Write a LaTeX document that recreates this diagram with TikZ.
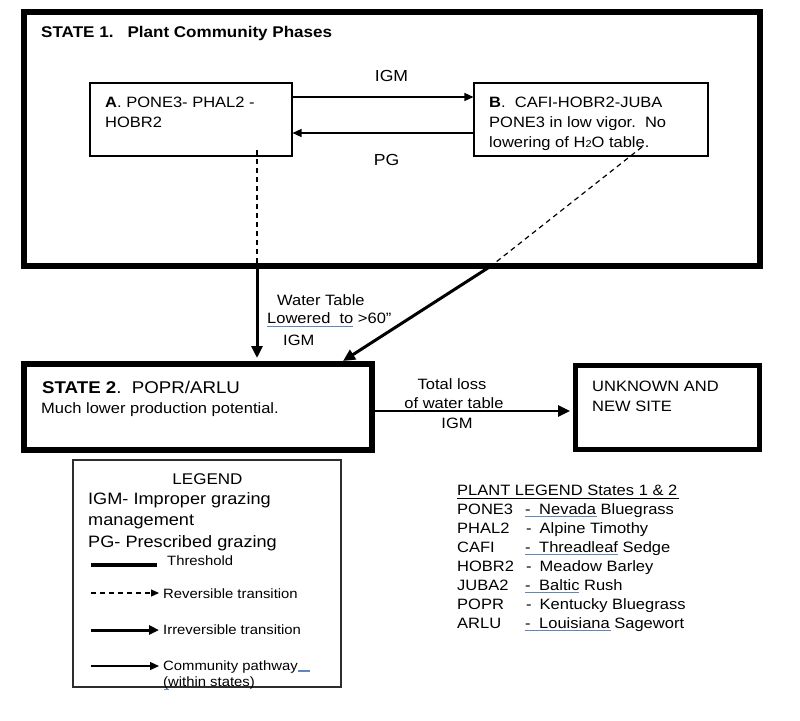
\documentclass[tikz,border=0pt]{standalone}
\usepackage{fontspec}
\setmainfont{Liberation Sans}[FakeStretch=1.1]
\usetikzlibrary{arrows.meta}
\newcommand\fsz[1]{\fontsize{#1}{#1}\selectfont}
\definecolor{squig}{RGB}{95,135,190}
\definecolor{legline}{RGB}{45,45,45}
\begin{document}
\begin{tikzpicture}[x=1pt,y=-1pt,
  txt/.style={inner sep=0pt, anchor=base west, font=\fsz{15}},
  ctxt/.style={inner sep=0pt, anchor=base, font=\fsz{15}},
  bigbox/.style={draw=black, line width=6pt, inner sep=0pt},
  phasebox/.style={draw=black, line width=1.1pt, inner sep=0pt},
  legbox/.style={draw=legline, line width=1.4pt, inner sep=0pt},
  pathway/.style={line width=1.3pt, -{Triangle[length=9pt,width=8pt]}},
  threshold/.style={line width=3pt, -{Triangle[length=12pt,width=11pt]}},
  revers/.style={line width=1.2pt, dash pattern=on 5pt off 4pt},
  squiggle/.style={draw=squig, line width=1.4pt},
  smalltxt/.style={txt, font=\fsz{13.5}},
  legtxt/.style={txt, font=\fsz{16.5}},
]
\useasboundingbox (0,0) rectangle (800,720);

% ---------- State 1 ----------
\node[bigbox, minimum width=736.5pt, minimum height=254.5pt] (S1) at (391.75,138.75) {};
\node[txt, font=\fsz{15.5}\bfseries] (S1t) at (41,37) {STATE 1.\hspace{14pt}Plant Community Phases};

\node[phasebox, minimum width=202pt, minimum height=73pt] (A) at (191,119.5) {};
\node[txt] (A1) at (105,107) {\textbf{A}. PONE3- PHAL2 -};
\node[txt] (A2) at (105,127) {HOBR2};

\node[phasebox, minimum width=234pt, minimum height=73pt] (B) at (591,119.5) {};
\node[txt] (B1) at (489,107) {\textbf{B}.\ \ CAFI-HOBR2-JUBA};
\node[txt] (B2) at (489,127) {PONE3 in low vigor.\ \ No};
\node[txt] (B3) at (489,147) {lowering of H\raisebox{-0.5pt}{\fsz{10}2}O table.};

\draw[pathway] ([yshift=22.5pt]A.east) -- ([yshift=22.5pt]B.west);
\draw[pathway] ([yshift=-13.5pt]B.west) -- ([yshift=-13.5pt]A.east);
\node[ctxt, font=\fsz{16}] (lIGM) at (391.5,81) {IGM};
\node[ctxt, font=\fsz{16}] (lPG) at (386.5,165) {PG};

% ---------- State 2 and unknown site ----------
\node[bigbox, minimum width=348.5pt, minimum height=86pt] (S2) at (197.75,407) {};
\node[txt, font=\fsz{17}] (S2t) at (42,393) {\textbf{STATE 2}.\ \ POPR/ARLU};
\node[txt] (S2d) at (41,413) {Much lower production potential.};

\node[bigbox, line width=5.5pt, minimum width=184pt, minimum height=84pt] (UN) at (667.5,407.5) {};
\node[txt] (U1) at (592,391) {UNKNOWN AND};
\node[txt] (U2) at (592,411) {NEW SITE};

% ---------- transitions ----------
\coordinate (a0) at (257,150);
\coordinate (s1a) at (257,266);
\draw[revers] (a0) -- (s1a);
\draw[threshold, shorten >=3pt] (s1a) -- (S2.north -| s1a);

\coordinate (b0) at (642,147);
\coordinate (s1b) at (491,266);
\coordinate (s2b) at (343,361);
\draw[revers] (b0) -- (s1b);
\draw[threshold] (s1b) -- (s2b);

\node[txt] (wt1) at (277,305) {Water Table};
\node[txt] (wt2) at (267,323) {Lowered\ \ to >60”};
\node[txt] (wt3) at (283,345) {IGM};
\draw[squiggle] (267,326.5) -- (353,326.5);

\draw[threshold, line width=2.6pt, shorten >=2.75pt] ([yshift=-4pt]S2.east) -- ([yshift=-3.5pt]UN.west);
\node[ctxt] (tl1) at (452,389) {Total loss};
\node[ctxt] (tl2) at (454,408) {of water table};
\node[ctxt] (tl3) at (457,428) {IGM};

% ---------- legend ----------
\node[legbox, minimum width=268pt, minimum height=227pt] (LG) at (207,573.5) {};
\node[ctxt, font=\fsz{15.5}] (lg0) at (207.5,484) {LEGEND};
\node[legtxt] (lg1) at (88,504) {IGM- Improper grazing};
\node[legtxt] (lg2) at (88,525.5) {management};
\node[legtxt] (lg3) at (88,547) {PG- Prescribed grazing};

\coordinate (t0) at (91,565); \coordinate (t1) at (157,565);
\draw[line width=4pt] (t0) -- (t1);
\node[smalltxt] (lt) at (167,565) {Threshold};

\coordinate (r0) at (91,593); \coordinate (r1) at (159,593);
\draw[revers, -{Triangle[length=8pt,width=7pt]}] (r0) -- (r1);
\node[smalltxt] (lr) at (163,598) {Reversible transition};

\coordinate (i0) at (91,630); \coordinate (i1) at (159,630);
\draw[line width=3pt, -{Triangle[length=10pt,width=9pt]}] (i0) -- (i1);
\node[smalltxt] (li) at (163,634) {Irreversible transition};

\coordinate (c0) at (91,666); \coordinate (c1) at (159,666);
\draw[line width=1.4pt, -{Triangle[length=9pt,width=8pt]}] (c0) -- (c1);
\node[smalltxt] (lc1) at (163,670) {Community pathway};
\node[smalltxt] (lc2) at (163,686) {(within states)};
\draw[squiggle] (298,671) -- (310,671);
\draw[squiggle] (164,689.5) -- (169,689.5);

% ---------- plant legend ----------
\node[txt] (pl0) at (457,495) {PLANT LEGEND States 1 \& 2};
\draw[line width=0.9pt] (457,498.5) -- (679,498.5);

\node[txt] (p1) at (457,514) {PONE3};
\node[txt] (n1) at (525,514) {-\hspace{8.5pt}Nevada Bluegrass};
\node[txt] (p2) at (457,533) {PHAL2};
\node[txt] (n2) at (526,533) {-\hspace{8pt}Alpine Timothy};
\node[txt] (p3) at (457,552) {CAFI};
\node[txt] (n3) at (525,552) {-\hspace{8.5pt}Threadleaf Sedge};
\node[txt] (p4) at (457,571) {HOBR2};
\node[txt] (n4) at (526,571) {-\hspace{8pt}Meadow Barley};
\node[txt] (p5) at (457,590) {JUBA2};
\node[txt] (n5) at (525,590) {-\hspace{8.5pt}Baltic Rush};
\node[txt] (p6) at (457,609) {POPR};
\node[txt] (n6) at (526,609) {-\hspace{8pt}Kentucky Bluegrass};
\node[txt] (p7) at (457,628) {ARLU};
\node[txt] (n7) at (525,628) {-\hspace{8.5pt}Louisiana Sagewort};

\draw[squiggle] (525,516.5) -- (597,516.5);
\draw[squiggle] (525,554.5) -- (618,554.5);
\draw[squiggle] (525,592.5) -- (579,592.5);
\draw[squiggle] (525,630.5) -- (611,630.5);
\end{tikzpicture}
\end{document}
